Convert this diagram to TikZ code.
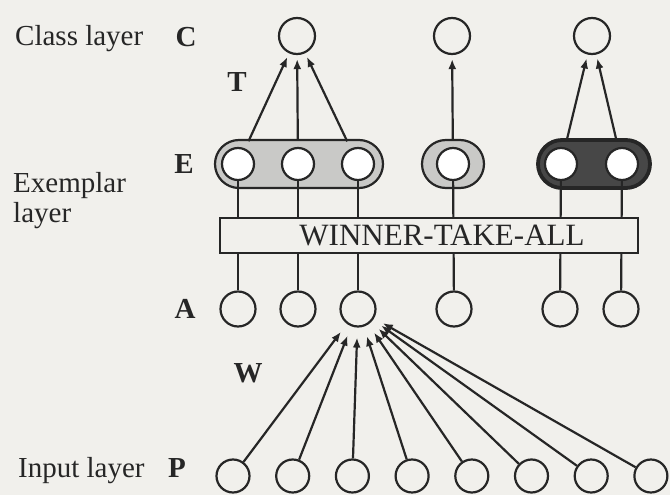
\documentclass[tikz,border=0pt]{standalone}
\usepackage{fontspec}
\setmainfont{Liberation Serif}
\usetikzlibrary{arrows.meta,backgrounds}
\definecolor{paper}{HTML}{F1F0EC}
\definecolor{ink}{HTML}{262626}
\definecolor{lightshade}{HTML}{C9C9C7}
\definecolor{darkshade}{HTML}{474747}
\begin{document}
\begin{tikzpicture}[x=1pt,y=-1pt,
  unit/.style={circle, draw=ink, line width=2.2pt, fill=paper, minimum size=35pt, inner sep=0pt},
  classunit/.style={unit, minimum size=36pt},
  exunit/.style={unit, minimum size=32pt, fill=white},
  inunit/.style={unit, minimum size=33pt},
  txt/.style={font=\fontsize{29}{30}\selectfont, text=ink, inner sep=0pt},
  letter/.style={font=\fontsize{29}{30}\selectfont\bfseries, text=ink, inner sep=0pt},
  conn/.style={draw=ink, line width=2.2pt},
  wire/.style={conn, -{Latex[length=10pt,width=8pt]}},
  pill/.style={draw=ink, line width=2.2pt, rounded corners=24pt, fill=lightshade},
  darkpill/.style={pill, line width=3.8pt, fill=darkshade},
  wta/.style={draw=ink, line width=2.2pt, fill=paper, minimum width=418pt, minimum height=35pt,
    inner sep=0pt, font=\fontsize{31}{32}\selectfont, text=ink}
]
\useasboundingbox (0,0) rectangle (670,495);

% class layer
\node[classunit] (C1) at (297,36) {};
\node[classunit] (C2) at (452,36) {};
\node[classunit] (C3) at (592,36) {};

% exemplar units
\node[exunit] (E1) at (238,164) {};
\node[exunit] (E2) at (298,164) {};
\node[exunit] (E3) at (358,164) {};
\node[exunit] (E4) at (453,164) {};
\node[exunit] (E5) at (561,164) {};
\node[exunit] (E6) at (622,164) {};

% activation units
\node[unit] (A1) at (238,309) {};
\node[unit] (A2) at (298,309) {};
\node[unit] (A3) at (358,309) {};
\node[unit] (A4) at (454,309) {};
\node[unit] (A5) at (560,309) {};
\node[unit] (A6) at (621,309) {};

% input layer
\foreach \i in {1,...,8}
  \node[inunit] (P\i) at ({233+59.7*(\i-1)},476) {};

% exemplar groups behind the units
\begin{pgfonlayer}{background}
  \fill[paper] (0,0) rectangle (670,495);
  \draw[pill] (215,140) rectangle (383,188);
  \draw[pill] (422,140) rectangle (484,188);
  \draw[darkpill] (538,140) rectangle (650,188);
\end{pgfonlayer}

% class weights T
\foreach \e/\c in {E1/C1,E2/C1,E3/C1,E4/C2,E5/C3,E6/C3}
  \draw[wire, shorten <=8pt, shorten >=4pt] (\e) -- (\c);

% exemplar to activation links, crossed by the competition box
\foreach \i in {1,...,6}
  \draw[conn] (E\i) -- (A\i);
\node[wta] (WTA) at (429,235.5) {\hspace*{26pt}WINNER-TAKE-ALL};

% input weights W into one activation unit
\foreach \i in {1,...,8}
  \draw[wire, shorten >=10pt] (P\i) -- (A3);

% labels
\node[txt, anchor=base west] (classlbl) at (15,46) {Class layer};
\node[letter, anchor=base] (Clbl) at (186,47) {C};
\node[letter, anchor=base] (Tlbl) at (237,92) {T};
\node[letter, anchor=base] (Elbl) at (184,173) {E};
\node[txt, anchor=base west, align=left] (exlbl) at (13,222) {Exemplar\\layer};
\node[letter, anchor=base] (Albl) at (185,318) {A};
\node[letter, anchor=base] (Wlbl) at (248,382) {W};
\node[txt, anchor=base west] (inlbl) at (18,477) {Input layer};
\node[letter, anchor=base] (Plbl) at (177,477) {P};
\end{tikzpicture}
\end{document}
